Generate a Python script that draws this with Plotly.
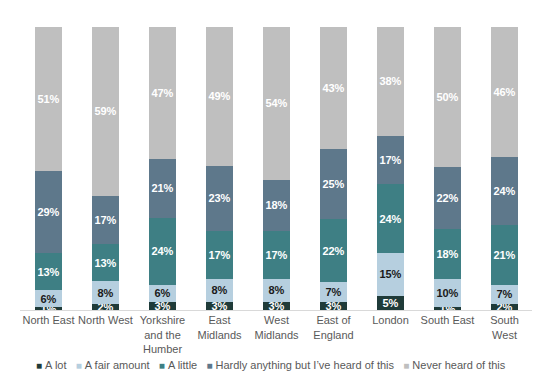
import plotly.graph_objects as go

categories = ["North East", "North West", "Yorkshire<br>and the<br>Humber", "East<br>Midlands",
              "West<br>Midlands", "East of<br>England", "London", "South East", "South<br>West"]
a_lot = [1, 2, 3, 3, 3, 3, 5, 1, 2]
a_fair_amount = [6, 8, 6, 8, 8, 7, 15, 10, 7]
a_little = [13, 13, 24, 17, 17, 22, 24, 18, 21]
hardly_anything = [29, 17, 21, 23, 18, 25, 17, 22, 24]
never_heard = [51, 59, 47, 49, 54, 43, 38, 50, 46]

series = [
    ("A lot", a_lot, "#1f3b39", "white"),
    ("A fair amount", a_fair_amount, "#b6cfdf", "#1a1a1a"),
    ("A little", a_little, "#3e7f84", "white"),
    ("Hardly anything but I’ve heard of this", hardly_anything, "#5e788b", "white"),
    ("Never heard of this", never_heard, "#bfbfbf", "white"),
]

fig = go.Figure()
for name, vals, color, tcolor in series:
    fig.add_trace(go.Bar(
        name=name, x=categories, y=vals, marker=dict(color=color, line=dict(width=0)),
        text=[f"{v}%" for v in vals], texttemplate="%{text}",
        textposition="inside", insidetextanchor="middle", constraintext="none",
        textangle=0,
        textfont=dict(family="Liberation Sans, Arial", size=11, color=tcolor, weight="bold"),
        hoverinfo="skip", showlegend=False,
    ))

# legend drawn as a single line of real text with coloured square markers
sp = "&nbsp;" * 3
legend_text = sp.join(
    f'<span style="color:{c};font-size:10px">■</span>&nbsp;{n}' for n, _, c, _ in series
)
fig.add_annotation(
    text=legend_text, xref="paper", yref="paper", x=0.49, y=-0.194,
    xanchor="center", yanchor="middle", showarrow=False,
    font=dict(family="Liberation Sans, Arial", size=11, color="#595959"),
)

fig.update_layout(
    barmode="stack", barnorm="percent", bargap=0.51,
    width=532, height=373,
    margin=dict(l=12, r=7, t=19, b=71),
    paper_bgcolor="white", plot_bgcolor="white",
    font=dict(family="Liberation Sans, Arial", size=11, color="#595959"),
    showlegend=False,
)
fig.update_xaxes(showline=True, linecolor="#d9d9d9", linewidth=1, ticks="",
                 tickfont=dict(size=11, color="#595959"), showgrid=False)
fig.update_yaxes(visible=False, range=[0, 100], showgrid=False)

fig.write_html("out.html")
